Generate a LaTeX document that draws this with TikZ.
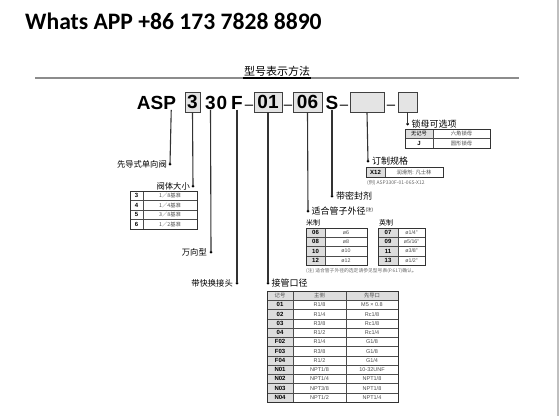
\documentclass[tikz,border=0pt]{standalone}
\usepackage{fontspec}
\setmainfont{Liberation Sans}
\newfontfamily\cjk{Noto Sans CJK SC}
\newfontfamily\wafont{Carlito}
\definecolor{cellgray}{HTML}{DDDDDD}
\definecolor{boxgray}{HTML}{E4E4E4}
\begin{document}
\begin{tikzpicture}[x=1pt,y=-1pt,
  code/.style={font=\fontsize{19}{20}\selectfont\bfseries,inner sep=0pt},
  codebox/.style={code,draw=black!75,fill=boxgray,line width=0.8pt,minimum height=20pt},
  dashtxt/.style={font=\fontsize{15}{16}\selectfont,inner sep=0pt,anchor=base},
  lead/.style={draw=black!80,line width=1.1pt},
  lbl/.style={font=\cjk\fontsize{8.3}{9}\selectfont,inner sep=0pt},
  lblr/.style={font=\cjk\fontsize{9}{10}\selectfont,inner sep=0pt},
  cell/.style={font=\cjk\fontsize{5.3}{6}\selectfont,text=black!70,inner sep=0pt},
  cellb/.style={font=\fontsize{6}{7}\selectfont\bfseries,inner sep=0pt},
  tabline/.style={draw=black!70,line width=0.5pt},
  tabout/.style={draw=black!80,line width=0.9pt},
  dot/.style={circle,fill=black,inner sep=0pt,minimum size=3pt}]
\useasboundingbox (0,0) rectangle (559,416);
% frame lines
\draw[black!25,line width=2pt] (557.5,0) -- (557.5,416);
\node[font=\wafont\bfseries\fontsize{23.6}{26}\selectfont,anchor=base west,inner sep=0pt] (wa) at (25,29) {Whats APP +86 173 7828 8890};
\draw[black!45,line width=2pt] (35,78) -- (519,78);
\node[font=\cjk\fontsize{11}{12}\selectfont,inner sep=0pt] (title) at (277,71.5) {型号表示方法};
\draw[black,line width=2pt] (243,78) -- (311,78);
% code line
\node[code,anchor=base] (cA) at (156.5,109.5) {ASP};
\node[codebox,minimum width=15pt] (b3) at (192.5,102) {3};
\node[code,anchor=base] (c3) at (210.5,109.5) {3};
\node[code,anchor=base] (c0) at (222,109.5) {0};
\node[code,anchor=base] (cF) at (237,109.5) {F};
\node[dashtxt] (m1) at (249,109.5) {–};
\node[codebox,minimum width=28pt] (b01) at (268,102) {01};
\node[dashtxt] (m2) at (288,109.5) {–};
\node[codebox,minimum width=29pt] (b06) at (307.5,102) {06};
\node[code,anchor=base] (cS) at (332,109.5) {S};
\node[dashtxt] (m3) at (344,109.5) {–};
\node[codebox,minimum width=34pt] (bX) at (367,102) {};
\node[dashtxt] (m4) at (391,109.5) {–};
\node[codebox,minimum width=19pt] (bN) at (407.5,102) {};
% leader dots
\node[dot] (d1) at (170,164) {};
\node[dot] (d2) at (193,186) {};
\node[dot] (d3) at (211,252) {};
\node[dot] (d4) at (237,283) {};
\node[dot] (d5) at (268,283) {};
\node[dot] (d6) at (308,211) {};
\node[dot] (d7) at (332,196) {};
\node[dot] (d8) at (368,161) {};
\node[dot] (d9) at (407.5,124) {};
\draw[lead] ([xshift=-5pt]cA.south east) -- (d1.center);
\draw[lead] (b3.south) -- (d2.center);
\draw[lead] (c3.south) -- (d3.center);
\draw[lead] (cF.south) -- (d4.center);
\draw[lead] (b01.south) -- (d5.center);
\draw[lead] (b06.south) -- (d6.center);
\draw[lead] (cS.south) -- (d7.center);
\draw[lead] (bX.south) -- (d8.center);
\draw[lead] (bN.south) -- (d9.center);
% labels
\node[lbl,anchor=east] (l1) at (167,164) {先导式单向阀};
\node[lbl,anchor=east] (l2) at (190,186) {阀体大小};
\node[lbl,anchor=east] (l3) at (207,252) {万向型};
\node[lbl,anchor=east] (l4) at (233,283) {带快换接头};
\node[lblr,anchor=west] (l5) at (271.5,283) {接管口径};
\node[lblr,anchor=west] (l6) at (311.5,211) {适合管子外径\raisebox{2.5pt}{\fontsize{4.5}{5}\selectfont (注)}};
\node[lblr,anchor=west] (l7) at (336,196) {带密封剂};
\node[lblr,anchor=west] (l8) at (372,161) {订制规格};
\node[lblr,anchor=west] (l9) at (411.5,124) {锁母可选项};
% valve size table
\foreach \a/\b [count=\i from 0] in {3/1／8基准,4/1／4基准,5/3／8基准,6/1／2基准}{
  \pgfmathsetmacro\yt{191+\i*9.5}
  \draw[tabline] (130,\yt) rectangle (197,\yt+9.5);
  \node[cellb] at (136.5,\yt+4.75) {\a};
  \node[cell] at (170,\yt+4.75) {\b};
}
\draw[tabline] (143,191) -- (143,229);
\draw[tabout] (130,191) rectangle (197,229);
% lock nut table
\fill[cellgray] (405,129) rectangle (433,138.5);
\draw[tabline] (405,129) rectangle (490,138.5);
\draw[tabline] (405,138.5) rectangle (490,148);
\draw[tabline] (433,129) -- (433,148);
\draw[tabout] (405,129) rectangle (490,148);
\node[cell,text=black] at (419,133.75) {无记号};
\node[cell] at (461.5,133.75) {六角锁母};
\node[cellb] at (419,143.25) {J};
\node[cell] at (461.5,143.25) {圆形锁母};
% X12 table
\fill[cellgray] (366,167) rectangle (385,177);
\draw[tabout] (366,167) rectangle (443,177);
\draw[tabline] (385,167) -- (385,177);
\node[cellb] at (375.5,172) {X12};
\node[cell] at (414,172) {润滑剂: 凡士林};
\node[cell,anchor=west,font=\cjk\fontsize{5}{6}\selectfont,text=black!60] at (367,182.5) {(例) ASP330F-01-06S-X12};
% tube OD tables
\node[lbl,anchor=west,font=\cjk\fontsize{7}{8}\selectfont] at (306,223) {米制};
\node[lbl,anchor=west,font=\cjk\fontsize{7}{8}\selectfont] at (379,223) {英制};
\foreach \a/\b [count=\i from 0] in {06/ø6,08/ø8,10/ø10,12/ø12}{
  \pgfmathsetmacro\yt{228+\i*9.25}
  \fill[cellgray] (306,\yt) rectangle (325,\yt+9.25);
  \draw[tabline] (306,\yt) rectangle (367,\yt+9.25);
  \node[cellb] at (315.5,\yt+4.6) {\a};
  \node[cell,font=\fontsize{5.3}{6}\selectfont] at (346,\yt+4.6) {\b};
}
\draw[tabline] (325,228) -- (325,265);
\draw[tabout] (306,228) rectangle (367,265);
\foreach \a/\b [count=\i from 0] in {07/{ø1/4"},09/{ø5/16"},11/{ø3/8"},13/{ø1/2"}}{
  \pgfmathsetmacro\yt{228+\i*9.25}
  \fill[cellgray] (378,\yt) rectangle (398,\yt+9.25);
  \draw[tabline] (378,\yt) rectangle (425,\yt+9.25);
  \node[cellb] at (388,\yt+4.6) {\a};
  \node[cell,font=\fontsize{5.3}{6}\selectfont] at (411.5,\yt+4.6) {\b};
}
\draw[tabline] (398,228) -- (398,265);
\draw[tabout] (378,228) rectangle (425,265);
\node[cell,anchor=west,font=\cjk\fontsize{4.8}{6}\selectfont,text=black!60] at (306,271) {(注) 适合管子外径的选定请参见型号表(P.617)确认。};
% port size table
\fill[cellgray] (267,291) rectangle (398,300.25);
\fill[cellgray] (267,291) rectangle (293,402);
\foreach \a/\b/\c [count=\i from 1] in {01/{R1/8}/{M5 × 0.8},02/{R1/4}/{Rc1/8},03/{R3/8}/{Rc1/8},04/{R1/2}/{Rc1/4},F02/{R1/4}/{G1/8},F03/{R3/8}/{G1/8},F04/{R1/2}/{G1/4},N01/{NPT1/8}/{10-32UNF},N02/{NPT1/4}/{NPT1/8},N03/{NPT3/8}/{NPT1/8},N04/{NPT1/2}/{NPT1/4}}{
  \pgfmathsetmacro\yt{291+\i*9.25}
  \draw[tabline] (267,\yt) rectangle (398,\yt+9.25);
  \node[cellb] at (280,\yt+4.6) {\a};
  \node[cell,font=\fontsize{5.5}{6}\selectfont] at (319.5,\yt+4.6) {\b};
  \node[cell,font=\fontsize{5.5}{6}\selectfont] at (372,\yt+4.6) {\c};
}
\node[cell] at (280,295.6) {记号};
\node[cell] at (319.5,295.6) {主侧};
\node[cell] at (372,295.6) {先导口};
\draw[tabline] (293,291) -- (293,402) (346,291) -- (346,402);
\draw[tabout] (267,291) rectangle (398,402);
\end{tikzpicture}
\end{document}
